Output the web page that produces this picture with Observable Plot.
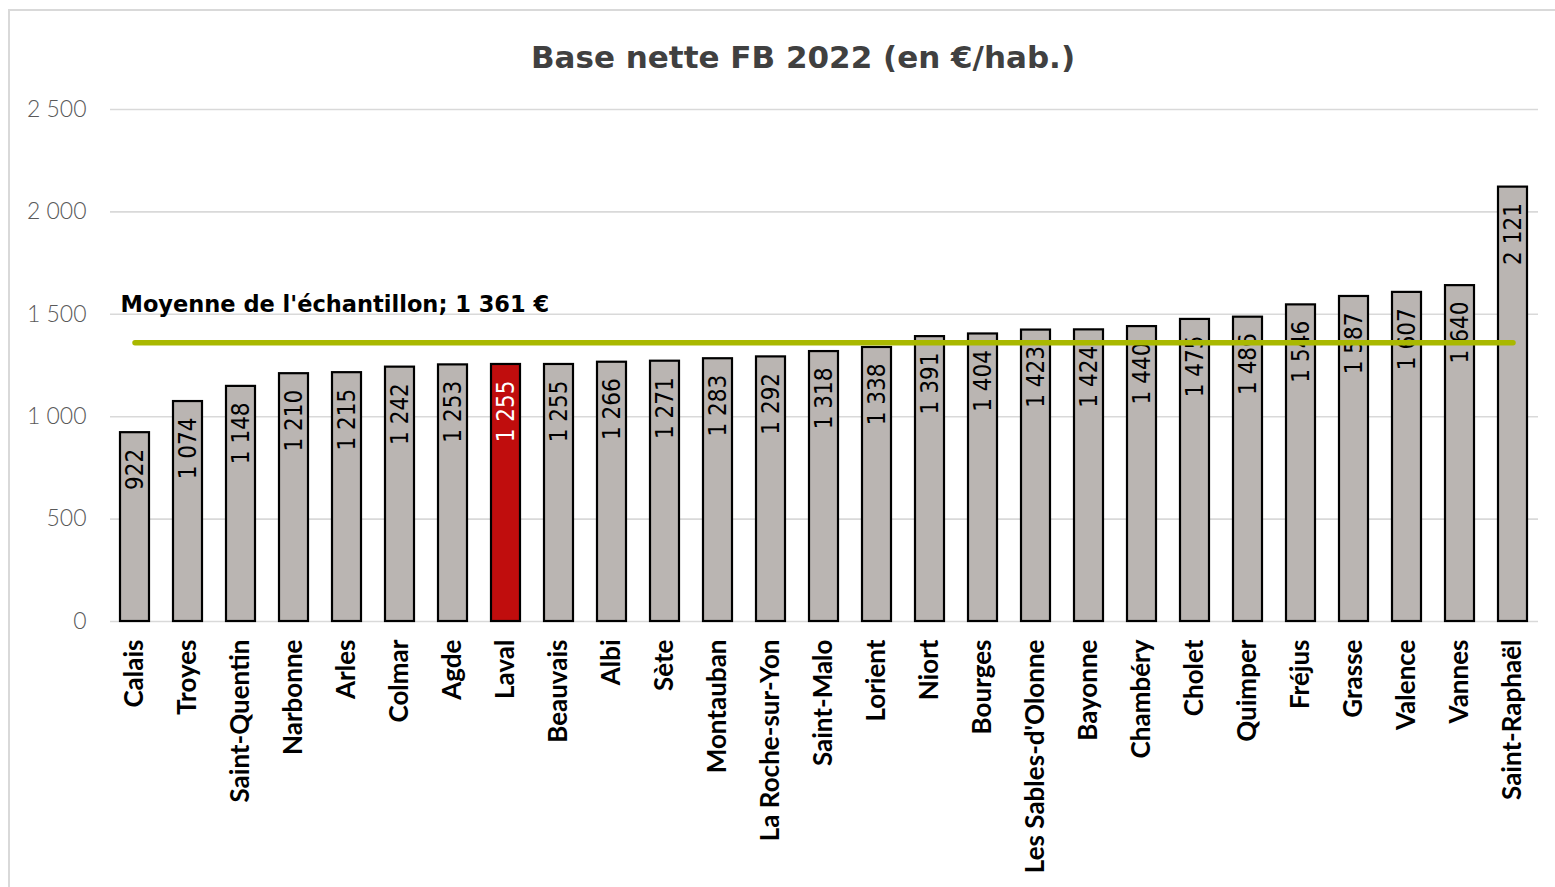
<!DOCTYPE html>
<html>
<head>
<meta charset="utf-8">
<script src="https://cdn.jsdelivr.net/npm/d3@7"></script>
<script src="https://cdn.jsdelivr.net/npm/@observablehq/plot@0.6"></script>
<style>
  html, body { margin: 0; padding: 0; background: #fff; }
  #wrap { position: relative; width: 1555px; height: 887px; overflow: hidden; }
  #border { position: absolute; left: 8px; top: 9px; width: 1600px; height: 1000px; border: 2px solid #d9d9d9; box-sizing: border-box; pointer-events: none; }
  #chart { position: absolute; left: 0; top: 0; }
</style>
</head>
<body>
<div id="wrap"><div id="chart"></div><div id="border"></div></div>
<script>
const cities = ["Calais","Troyes","Saint-Quentin","Narbonne","Arles","Colmar","Agde","Laval","Beauvais","Albi","Sète","Montauban","La Roche-sur-Yon","Saint-Malo","Lorient","Niort","Bourges","Les Sables-d'Olonne","Bayonne","Chambéry","Cholet","Quimper","Fréjus","Grasse","Valence","Vannes","Saint-Raphaël"];
const values = [922,1074,1148,1210,1215,1242,1253,1255,1255,1266,1271,1283,1292,1318,1338,1391,1404,1423,1424,1440,1475,1486,1546,1587,1607,1640,2121];
const highlight = "Laval";
const average = 1361;
const yTicks = [0,500,1000,1500,2000,2500];
const title = "Base nette FB 2022 (en €/hab.)";
const averageLabel = "Moyenne de l'échantillon; 1 361 €";

const fr = d3.formatLocale({decimal: ",", thousands: " ", grouping: [3], currency: ["", " €"]});
const fmt = fr.format(",d");

const data = cities.map((c, i) => ({city: c, value: values[i], hl: c === highlight}));

const wide = "'DejaVu Sans', sans-serif";

const chart = Plot.plot({
  width: 1555,
  height: 887,
  marginLeft: 110,
  marginRight: 17,
  marginTop: 109,
  marginBottom: 266,
  style: {fontFamily: "Lato, 'DejaVu Sans', sans-serif", background: "transparent"},
  x: {domain: cities, paddingInner: 0.45, paddingOuter: 0.19, axis: null},
  y: {domain: [0, 2500], ticks: yTicks, axis: null},
  marks: [
    Plot.ruleY(yTicks, {stroke: "#d9d9d9", strokeWidth: 1.6}),
    Plot.text(yTicks, {y: d => d, text: d => fmt(d), frameAnchor: "left", dx: -24, textAnchor: "end",
      fontSize: 23, fontWeight: 300, fill: "#595959"}),
    Plot.barY(data, {x: "city", y: "value", fill: d => d.hl ? "#c00d0d" : "#bab5b2", stroke: "#000", strokeWidth: 2.2}),
    Plot.text(data, {x: "city", y: "value", text: d => fmt(d.value), rotate: -90, textAnchor: "end", dy: 16,
      lineAnchor: "middle",
      fontSize: 24, fontFamily: "'DejaVu Sans Condensed', 'DejaVu Sans', sans-serif", fontStretch: "condensed",
      fill: d => d.hl ? "#fff" : "#000", fontWeight: d => d.hl ? "bold" : "normal"}),
    Plot.lineY(data, {x: "city", y: () => average, stroke: "#a9b800", strokeWidth: 5.5, strokeLinecap: "round"}),
    Plot.text([averageLabel], {text: d => d, frameAnchor: "left", y: () => average, dx: 10, dy: -38, textAnchor: "start",
      lineAnchor: "middle", fontSize: 22.5, fontFamily: wide, fontWeight: "bold", fill: "#000"}),
    Plot.text(data, {x: "city", text: "city", frameAnchor: "bottom", lineAnchor: "middle", dy: 18, rotate: -90, textAnchor: "end",
      fontSize: 26, fontWeight: "bold", fill: "#000"}),
    Plot.text([title], {text: d => d, frameAnchor: "top", lineAnchor: "middle", dx: -21.5, dy: -51.5,
      fontSize: 31, fontFamily: wide, fontWeight: "bold", fill: "#404040"})
  ]
});
document.getElementById("chart").appendChild(chart);
</script>
</body>
</html>
